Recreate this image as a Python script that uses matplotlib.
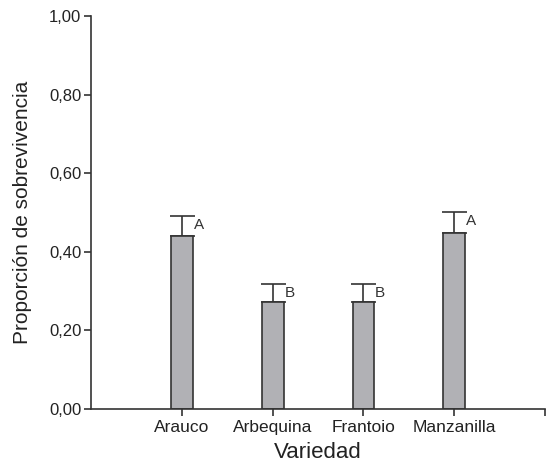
import matplotlib
matplotlib.use("Agg")
import matplotlib.pyplot as plt
from matplotlib.ticker import FuncFormatter

# data
variedades = ["Arauco", "Arbequina", "Frantoio", "Manzanilla"]
proporcion = [0.44, 0.272, 0.272, 0.448]
error_sup = [0.05, 0.045, 0.045, 0.052]
letras = ["A", "B", "B", "A"]

plt.rcParams["font.family"] = ["Liberation Sans", "DejaVu Sans"]
axis_col = "#333333"

fig = plt.figure(figsize=(5.5, 4.66), dpi=100)
ax = fig.add_axes([0.1655, 0.1223, 0.8255, 0.8434])

xs = list(range(1, len(variedades) + 1))
ax.bar(xs, proporcion, width=0.24, color="#b1b1b5", edgecolor=axis_col,
       linewidth=1.2, zorder=2)
ax.errorbar(xs, proporcion, yerr=[[0] * len(xs), error_sup], fmt="none",
            ecolor=axis_col, elinewidth=1.2, capsize=9, capthick=1.2, zorder=1)
for x, p, e, l in zip(xs, proporcion, error_sup, letras):
    ax.text(x + 0.13, p + e - 0.004, l, fontsize=11, ha="left", va="top",
            color=axis_col)

ax.set_xlim(0, 5)
ax.set_ylim(0, 1.0)
ax.set_xticks(xs + [5])
ax.set_xticklabels(variedades + [""], fontsize=12.5)
ax.set_yticks([0, 0.2, 0.4, 0.6, 0.8, 1.0])
ax.yaxis.set_major_formatter(FuncFormatter(lambda v, _: f"{v:.2f}".replace(".", ",")))
ax.tick_params(axis="y", labelsize=12, length=5, width=1.2, color=axis_col,
               labelcolor="#222222", pad=2)
ax.tick_params(axis="x", length=5, width=1.2, color=axis_col, labelcolor="#222222",
               pad=3)

ax.set_xlabel("Variedad", fontsize=16, color="#222222", labelpad=5)
ax.set_ylabel("Proporción de sobrevivencia", fontsize=15, color="#222222",
              labelpad=12)

for side in ["top", "right"]:
    ax.spines[side].set_visible(False)
for side in ["left", "bottom"]:
    ax.spines[side].set_color(axis_col)
    ax.spines[side].set_linewidth(1.2)

fig.savefig("out.png", dpi=100)
